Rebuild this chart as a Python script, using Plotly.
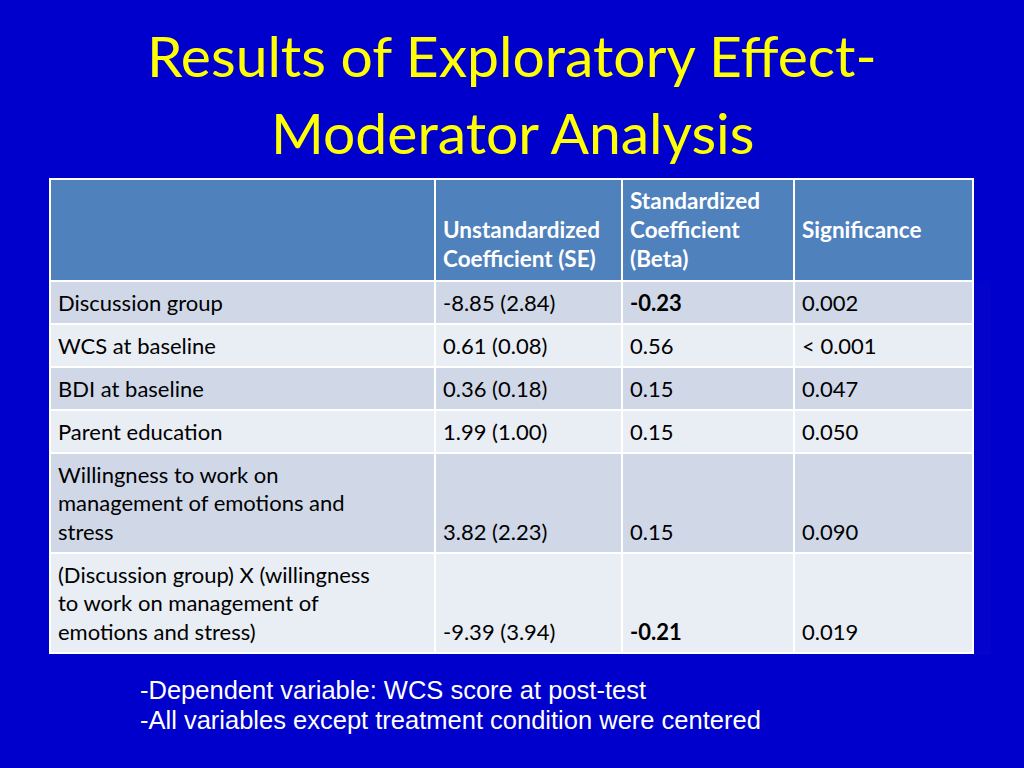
import plotly.graph_objects as go

NB = "\u00a0"
title_lines = ["Results of Exploratory Effect-", "Moderator Analysis"]
header = ["", NB + "<br>Unstandardized<br>Coefficient (SE)", "Standardized<br>Coefficient<br>(Beta)", NB + "<br>Significance"]
predictors = [
    "Discussion group",
    "WCS at baseline",
    "BDI at baseline",
    "Parent education",
    "Willingness to work on<br>management of emotions and<br>stress",
    "(Discussion group) X (willingness<br>to work on management of<br>emotions and stress)",
]
unstd = ["-8.85 (2.84)", "0.61 (0.08)", "0.36 (0.18)", "1.99 (1.00)", NB + "<br>" + NB + "<br>3.82 (2.23)", NB + "<br>" + NB + "<br>-9.39 (3.94)"]
beta = ["<b>-0.23</b>", "0.56", "0.15", "0.15", NB + "<br>" + NB + "<br>0.15", NB + "<br>" + NB + "<br><b>-0.21</b>"]
significance = ["0.002", "&lt; 0.001", "0.047", "0.050", NB + "<br>" + NB + "<br>0.090", NB + "<br>" + NB + "<br>0.019"]
notes = ["-Dependent variable: WCS score at post-test", "-All variables except treatment condition were centered"]

BG = "#0000CC"
HEAD = "#4F81BD"
ROW_A = "#D0D8E8"
ROW_B = "#E9EDF4"
row_colors = [ROW_A if i % 2 == 0 else ROW_B for i in range(len(predictors))]


def styled(col):
    # route single-line cells through the same rich-text path as the others
    return [s if "<br>" in s else "<span>" + s + "</span>" for s in col]


W, H = 1024, 768
x0, x1 = 50, 973
y_top = 179

fig = go.Figure()
fig.add_trace(go.Table(
    domain=dict(x=[x0 / W, x1 / W], y=[1 - 655 / H, 1 - y_top / H]),
    columnwidth=[385, 187, 172, 179],
    header=dict(
        values=header,
        fill_color=HEAD,
        line=dict(color="white", width=2),
        align="left",
        font=dict(family="Lato", size=22.5, color="white", weight="bold"),
        height=101,
    ),
    cells=dict(
        values=[styled(predictors), styled(unstd), styled(beta), styled(significance)],
        fill_color=[row_colors] * 4,
        line=dict(color="white", width=2),
        align="left",
        font=dict(family="Lato", size=22, color="black"),
        height=42,
    ),
))

for i, t in enumerate(title_lines):
    fig.add_annotation(
        x=0.5, y=1 - (55 + 77 * i) / H, xref="paper", yref="paper",
        text=t, showarrow=False, xanchor="center", yanchor="middle",
        font=dict(family="Lato", size=57, color="#FFFF00"),
    )

for i, t in enumerate(notes):
    fig.add_annotation(
        x=138 / W, y=1 - (690 + 30 * i) / H, xref="paper", yref="paper",
        text=t, showarrow=False, xanchor="left", yanchor="middle",
        font=dict(family="Liberation Sans", size=25.5, color="white"),
    )

fig.update_layout(
    width=W, height=H,
    margin=dict(l=0, r=0, t=0, b=0),
    paper_bgcolor=BG, plot_bgcolor=BG,
)
fig.write_html(
    "out.html",
    config={"displayModeBar": False},
    post_script="document.body.style.margin='0';document.body.style.background='#0000CC';",
)
